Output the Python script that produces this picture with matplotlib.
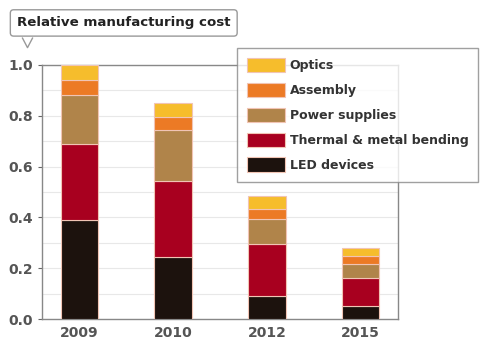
import matplotlib
matplotlib.use("Agg")
import matplotlib.pyplot as plt
import numpy as np
from matplotlib.lines import Line2D

# ----------------------------------------------------------------------
# Data
# ----------------------------------------------------------------------
years = ["2009", "2010", "2012", "2015"]
led_devices = [0.39, 0.245, 0.09, 0.05]
thermal_metal = [0.30, 0.30, 0.205, 0.11]
power_supplies = [0.19, 0.20, 0.10, 0.055]
assembly = [0.06, 0.05, 0.04, 0.035]
optics = [0.06, 0.055, 0.05, 0.03]

series = [
    ("LED devices", led_devices, "#1c120d"),
    ("Thermal & metal bending", thermal_metal, "#a8001f"),
    ("Power supplies", power_supplies, "#b0844a"),
    ("Assembly", assembly, "#ec7a25"),
    ("Optics", optics, "#f6bd2c"),
]

fig = plt.figure(figsize=(5.0, 3.53), dpi=100)
ax = fig.add_axes([0.084, 0.096, 0.712, 0.72])

x = np.arange(len(years))
bottom = np.zeros(len(years))
handles = []
for name, vals, color in series:
    bars = ax.bar(x, vals, width=0.4, bottom=bottom, color=color,
                  edgecolor="#f1c4b4", linewidth=0.8, label=name, zorder=3)
    bottom += np.array(vals)
    handles.append(bars)

ax.set_xlim(-0.4, 3.4)
ax.set_ylim(0, 1.0)
ax.set_yticks(np.arange(0, 1.01, 0.2))
ax.set_yticklabels([f"{v:.1f}" for v in np.arange(0, 1.01, 0.2)])
ax.set_yticks(np.arange(0, 1.01, 0.1), minor=True)
ax.set_xticks(x)
ax.set_xticklabels(years)
ax.grid(axis="y", which="both", color="#e8e8e8", linewidth=0.8, zorder=0)
ax.tick_params(axis="both", colors="#666666", labelcolor="#555555",
               labelsize=10, length=3)
ax.tick_params(axis="y", which="minor", length=0)
ax.tick_params(axis="x", length=0, pad=5)
for lbl in ax.get_xticklabels() + ax.get_yticklabels():
    lbl.set_fontweight("bold")
for s in ax.spines.values():
    s.set_color("#888888")
    s.set_linewidth(1.0)

# legend (top-down order like the reference)
leg = ax.legend(handles[::-1], [s[0] for s in series][::-1],
                loc="upper left", bbox_to_anchor=(0.474, 0.864),
                bbox_transform=fig.transFigure, borderaxespad=0,
                frameon=True, fancybox=False,
                fontsize=9, handlelength=3.0, handleheight=1.36,
                handletextpad=0.4, labelspacing=0.85, borderpad=0.8)
leg.get_frame().set_edgecolor("#888888")
leg.get_frame().set_linewidth(1.0)
for t in leg.get_texts():
    t.set_fontweight("bold")
    t.set_color("#333333")

# title tag with a little pointer
fig.text(0.034, 0.935, "Relative manufacturing cost", fontsize=9.6,
         fontweight="bold", color="#222222", ha="left", va="center",
         bbox=dict(boxstyle="round,pad=0.5,rounding_size=0.25",
                   facecolor="white", edgecolor="#999999", linewidth=1.0))
fig.add_artist(Line2D([0.045, 0.055, 0.065], [0.892, 0.865, 0.892],
                      transform=fig.transFigure, color="#999999",
                      linewidth=1.0))

fig.savefig("out.png", dpi=100)
